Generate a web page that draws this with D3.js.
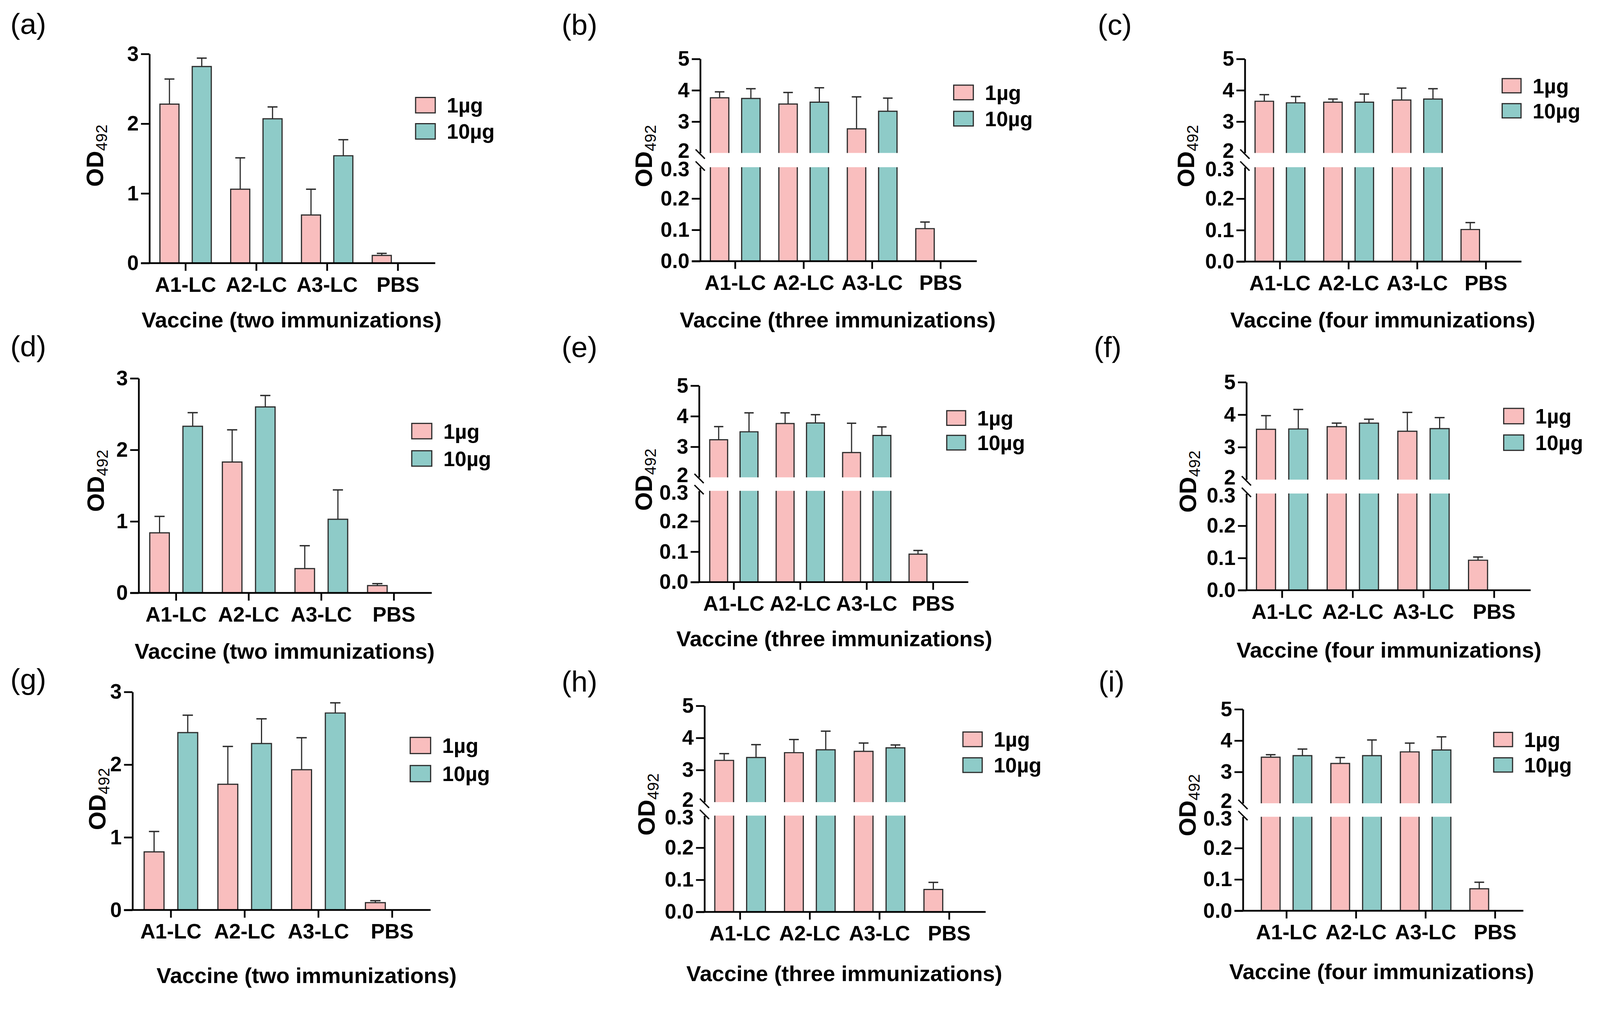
<!DOCTYPE html>
<html>
<head>
<meta charset="utf-8">
<title>OD492 by vaccine</title>
<script src="https://cdn.jsdelivr.net/npm/d3@7"></script>
<style>
  html, body { margin: 0; padding: 0; background: #fff; overflow: hidden; }
  #mainsvg { display: block; width: 100%; height: auto; }
</style>
</head>
<body>
<svg id="mainsvg" viewBox="0 0 4154 2585" preserveAspectRatio="xMinYMin meet"></svg>
<script>
// ---- data ----
const categories = ['A1-LC', 'A2-LC', 'A3-LC', 'PBS'];
const doses = ['1µg', '10µg'];
const panelTags = ['(a)', '(b)', '(c)', '(d)', '(e)', '(f)', '(g)', '(h)', '(i)'];
const titles = ['Vaccine (two immunizations)', 'Vaccine (three immunizations)', 'Vaccine (four immunizations)'];
const ticksFull = [0, 1, 2, 3];
const ticksUpper = [2, 3, 4, 5];
const ticksLower = [0, 0.1, 0.2, 0.3];

// [1µg, 10µg] x categories ; null = no bar
const mean_a = [[2.28, 1.06, 0.69, 0.11], [2.82, 2.07, 1.54, null]];
const sd_a = [[0.36, 0.45, 0.37, 0.03], [0.12, 0.17, 0.23, null]];
const mean_b = [[3.76, 3.56, 2.77, 0.104], [3.74, 3.62, 3.33, null]];
const sd_b = [[0.19, 0.37, 1.02, 0.021], [0.31, 0.46, 0.42, null]];
const mean_c = [[3.65, 3.62, 3.69, 0.102], [3.60, 3.62, 3.72, null]];
const sd_c = [[0.21, 0.10, 0.38, 0.022], [0.20, 0.26, 0.33, null]];
const mean_d = [[0.84, 1.83, 0.34, 0.103], [2.33, 2.60, 1.03, null]];
const sd_d = [[0.23, 0.45, 0.32, 0.027], [0.19, 0.16, 0.41, null]];
const mean_e = [[3.23, 3.76, 2.81, 0.092], [3.49, 3.78, 3.37, null]];
const sd_e = [[0.43, 0.35, 0.96, 0.012], [0.62, 0.27, 0.28, null]];
const mean_f = [[3.55, 3.63, 3.49, 0.093], [3.56, 3.74, 3.57, null]];
const sd_f = [[0.42, 0.11, 0.58, 0.010], [0.60, 0.12, 0.34, null]];
const mean_g = [[0.80, 1.73, 1.93, 0.101], [2.44, 2.29, 2.71, null]];
const sd_g = [[0.28, 0.52, 0.44, 0.027], [0.24, 0.34, 0.14, null]];
const mean_h = [[3.30, 3.54, 3.58, 0.070], [3.39, 3.63, 3.69, null]];
const sd_h = [[0.21, 0.41, 0.26, 0.022], [0.40, 0.58, 0.09, null]];
const mean_i = [[3.47, 3.27, 3.64, 0.070], [3.52, 3.52, 3.70, null]];
const sd_i = [[0.08, 0.19, 0.28, 0.021], [0.21, 0.50, 0.42, null]];

const allMeans = [mean_a, mean_b, mean_c, mean_d, mean_e, mean_f, mean_g, mean_h, mean_i];
const allSds = [sd_a, sd_b, sd_c, sd_d, sd_e, sd_f, sd_g, sd_h, sd_i];

// ---- layout (pixel positions of each panel) ----
// plain panels: y0 / yTop ; broken panels: y0, y03 (0.3), y2 (2), y5 (5)
const layout = [
  {broken: false, ax: 388, band: [390, 1125], xEnd: 1130, y0: 683, yTop: 140, leg: [1079, 253, 51, 40, 68], title: [757, 850], od: [268, 404], tag: [27, 88]},
  {broken: true, ax: 1818, band: [1820, 2531], xEnd: 2536, y0: 678, y03: 434, y2: 397, y5: 153, leg: [2476, 221, 51, 38, 68], title: [2175, 850], od: [1693, 405], tag: [1458, 90]},
  {broken: true, ax: 3232, band: [3234, 3947], xEnd: 3950, y0: 679, y03: 434, y2: 397, y5: 153, leg: [3900, 204, 49, 37, 65], title: [3590, 850], od: [3100, 405], tag: [2850, 90]},
  {broken: false, ax: 360, band: [363, 1117], xEnd: 1121, y0: 1539, yTop: 982, leg: [1069, 1099, 52, 40, 71], title: [739, 1710], od: [270, 1248], tag: [27, 925]},
  {broken: true, ax: 1815, band: [1819, 2509], xEnd: 2514, y0: 1511, y03: 1274, y2: 1239, y5: 1001, leg: [2458, 1066, 49, 38, 64], title: [2166, 1677], od: [1693, 1245], tag: [1458, 927]},
  {broken: true, ax: 3236, band: [3237, 3971], xEnd: 3974, y0: 1532, y03: 1281, y2: 1245, y5: 992, leg: [3904, 1060, 52, 40, 69], title: [3606, 1707], od: [3105, 1250], tag: [2840, 927]},
  {broken: false, ax: 344, band: [348, 1114], xEnd: 1118, y0: 2362, yTop: 1796, leg: [1065, 1914, 53, 42, 73], title: [796, 2552], od: [274, 2074], tag: [27, 1789]},
  {broken: true, ax: 1829, band: [1831, 2555], xEnd: 2559, y0: 2367, y03: 2117, y2: 2082, y5: 1832, leg: [2500, 1900, 50, 38, 67], title: [2192, 2547], od: [1700, 2088], tag: [1458, 1795]},
  {broken: true, ax: 3227, band: [3250, 3972], xEnd: 3955, y0: 2364, y03: 2120, y2: 2085, y5: 1841, leg: [3878, 1901, 49, 37, 66], title: [3587, 2541], od: [3104, 2090], tag: [2852, 1795]}
];

const FONT = "'Liberation Sans', Arial, Helvetica, sans-serif";
const fills = {'1µg': '#f9bebe', '10µg': '#8ecbc8'};
const barStroke = '#2b2b2b';
const tickLen = 22;
const legendSize = 54;

const svg = d3.select('#mainsvg');

const styleAxis = function(g, size) {
  g.attr('font-family', FONT).attr('font-size', size).attr('font-weight', 'bold');
  g.selectAll('text').attr('fill', '#000');
  g.selectAll('line').attr('stroke', '#000').attr('stroke-width', 4.5);
  g.select('.domain').attr('stroke', '#000').attr('stroke-width', 4.5);
};

layout.forEach((p, i) => {
  const means = allMeans[i];
  const sds = allSds[i];
  const g = svg.append('g');

  const x0 = d3.scaleBand().domain(categories).range(p.band);
  const x1 = d3.scaleBand().domain(doses).range([0, x0.bandwidth()])
    .paddingInner(0.41).paddingOuter(0.3);

  let yLow, yUp = null;
  if (p.broken) {
    yLow = d3.scaleLinear().domain([0, 0.3]).range([p.y0, p.y03]);
    yUp = d3.scaleLinear().domain([2, 5]).range([p.y2, p.y5]);
  } else {
    yLow = d3.scaleLinear().domain([0, 3]).range([p.y0, p.yTop]);
  }

  const rows = [];
  categories.forEach((c, ci) => {
    doses.forEach((d, di) => {
      if (means[di][ci] !== null) rows.push({cat: c, dose: d, m: means[di][ci], s: sds[di][ci]});
    });
  });

  // bar pieces: one piece, or two pieces split at the axis break
  const pieces = function(r) {
    if (!p.broken || r.m <= 0.3) return [{bot: yLow(0), top: yLow(r.m), open: null}];
    return [
      {bot: yLow(0), top: yLow(0.3), open: 'top'},
      {bot: yUp(2), top: yUp(r.m), open: 'bottom'}
    ];
  };

  rows.forEach(r => {
    const left = x0(r.cat) + x1(r.dose);
    const w = x1.bandwidth();
    const right = left + w;
    pieces(r).forEach(pc => {
      g.append('rect')
        .attr('x', left).attr('y', pc.top)
        .attr('width', w).attr('height', pc.bot - pc.top)
        .attr('fill', fills[r.dose]);
      let d;
      if (pc.open === 'top') d = `M${left},${pc.top}V${pc.bot}H${right}V${pc.top}`;
      else if (pc.open === 'bottom') d = `M${left},${pc.bot}V${pc.top}H${right}V${pc.bot}`;
      else d = `M${left},${pc.bot}V${pc.top}H${right}V${pc.bot}Z`;
      g.append('path').attr('d', d).attr('fill', 'none')
        .attr('stroke', barStroke).attr('stroke-width', 3);
    });
    // error bar (upper half only)
    const ys = (p.broken && r.m > 0.3) ? yUp : yLow;
    const cx = left + w / 2;
    const cap = w * 0.26;
    g.append('line').attr('x1', cx).attr('x2', cx)
      .attr('y1', ys(r.m)).attr('y2', ys(r.m + r.s))
      .attr('stroke', barStroke).attr('stroke-width', 3);
    g.append('line').attr('x1', cx - cap).attr('x2', cx + cap)
      .attr('y1', ys(r.m + r.s)).attr('y2', ys(r.m + r.s))
      .attr('stroke', barStroke).attr('stroke-width', 3.5);
  });

  // y axis
  if (p.broken) {
    const lowAx = g.append('g').attr('transform', `translate(${p.ax},0)`)
      .call(d3.axisLeft(yLow).tickValues(ticksLower).tickFormat(d3.format('.1f'))
        .tickSize(tickLen).tickSizeOuter(0).tickPadding(6));
    const upAx = g.append('g').attr('transform', `translate(${p.ax},0)`)
      .call(d3.axisLeft(yUp).tickValues(ticksUpper).tickFormat(d3.format('d'))
        .tickSize(tickLen).tickSizeOuter(0).tickPadding(6));
    styleAxis(lowAx, 54);
    styleAxis(upAx, 54);
    // labels at the break sit tight against each other, as in the source
    const t03 = lowAx.selectAll('.tick').filter(d => d === 0.3);
    t03.select('line').remove();
    t03.select('text').attr('dy', '0.42em');
    const t2 = upAx.selectAll('.tick').filter(d => d === 2);
    t2.select('line').remove();
    t2.select('text').attr('dy', '0.22em');
    // break marks
    [yUp(2) + 3, yLow(0.3) - 3].forEach(yc => {
      g.append('line')
        .attr('x1', p.ax - 12).attr('y1', yc - 12)
        .attr('x2', p.ax + 12).attr('y2', yc + 12)
        .attr('stroke', '#000').attr('stroke-width', 3.5);
    });
  } else {
    const yAx = g.append('g').attr('transform', `translate(${p.ax},0)`)
      .call(d3.axisLeft(yLow).tickValues(ticksFull).tickFormat(d3.format('d'))
        .tickSize(tickLen).tickSizeOuter(0).tickPadding(6));
    styleAxis(yAx, 54);
  }

  // x axis
  const xAx = g.append('g').attr('transform', `translate(0,${p.y0})`)
    .call(d3.axisBottom(x0).tickSize(20).tickSizeOuter(0).tickPadding(16));
  styleAxis(xAx, 54);
  xAx.select('.domain').attr('d', `M${p.ax - tickLen},0H${p.xEnd}`);

  // legend
  const [lx, ly, lw, lh, lgap] = p.leg;
  doses.forEach((d, di) => {
    const yy = ly + di * lgap;
    g.append('rect').attr('x', lx).attr('y', yy).attr('width', lw).attr('height', lh)
      .attr('fill', fills[d]).attr('stroke', barStroke).attr('stroke-width', 3);
    g.append('text').attr('x', lx + lw + 30).attr('y', yy + lh / 2 + 0.36 * legendSize)
      .attr('font-family', FONT).attr('font-size', legendSize).attr('font-weight', 'bold')
      .text(d);
  });

  // x title
  g.append('text').attr('x', p.title[0]).attr('y', p.title[1])
    .attr('text-anchor', 'middle')
    .attr('font-family', FONT).attr('font-size', 57).attr('font-weight', 'bold')
    .text(titles[i % 3]);

  // y title OD492
  const od = g.append('text')
    .attr('transform', `translate(${p.od[0]},${p.od[1]}) rotate(-90)`)
    .attr('text-anchor', 'middle')
    .attr('font-family', FONT);
  od.append('tspan').attr('font-size', 62).attr('font-weight', 'bold').text('OD');
  od.append('tspan').attr('font-size', 41).attr('dy', 10).text('492');

  // panel tag
  g.append('text').attr('x', p.tag[0]).attr('y', p.tag[1])
    .attr('font-family', FONT).attr('font-size', 76)
    .text(panelTags[i]);
});
</script>
</body>
</html>
